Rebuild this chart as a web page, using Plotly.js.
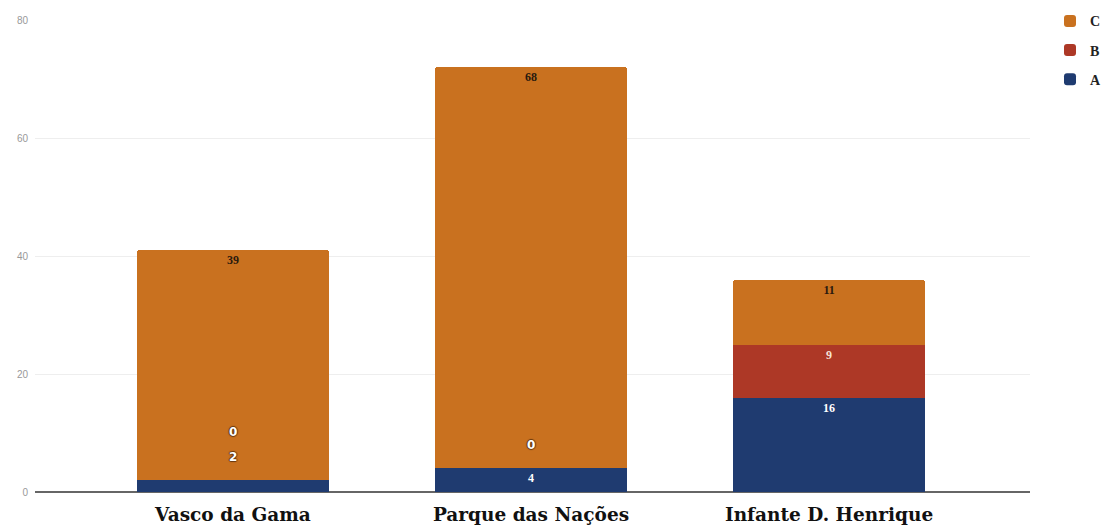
<!DOCTYPE html>
<html>
<head>
<meta charset="utf-8">
<script src="https://cdn.plot.ly/plotly-3.0.1.min.js"></script>
<style>html,body{margin:0;padding:0;background:#fff;}#chart{width:1106px;height:531px;}</style>
</head>
<body>
<div id="chart"></div>
<script>
const categories = ["Vasco da Gama", "Parque das Nações", "Infante D. Henrique"];
const seriesA = [2, 4, 16];
const seriesB = [0, 0, 9];
const seriesC = [39, 68, 11];
const yTicks = [0, 20, 40, 60, 80];

const colors = {A: "#1f3b70", B: "#ad3826", C: "#c9711f"};
const labelColors = {A: "#ffffff", B: "#f6e3d6", C: "#2a1a0e"};
const ranks = {A: 3, B: 2, C: 1};
const minInside = 3;
const labelFont = "Liberation Serif, DejaVu Serif, serif";

function mk(name, vals) {
  return {
    type: "bar", name: name, x: categories, y: vals,
    marker: {color: colors[name], cornerradius: 3},
    text: vals.map(v => v >= minInside ? String(v) : ""),
    textposition: "inside", insidetextanchor: "end",
    textfont: {family: labelFont, size: 12, color: labelColors[name], weight: "bold"},
    hoverinfo: "none", legendgroup: name, legendrank: ranks[name]
  };
}
const traces = [mk("A", seriesA), mk("B", seriesB), mk("C", seriesC)];

// labels for segments too small to hold their value
const annotations = [];
categories.forEach((c, i) => {
  let cum = 0, k = 0;
  [["A", seriesA], ["B", seriesB]].forEach(([n, arr]) => {
    cum += arr[i];
    if (arr[i] < minInside) {
      k++;
      annotations.push({
        x: c, y: cum, xref: "x", yref: "y", text: String(arr[i]), showarrow: false,
        yshift: 23 * k + (k > 1 ? 2 : 0),
        font: {family: "DejaVu Sans, sans-serif", size: 12, color: "#ffffff", weight: "bold",
               shadow: "1px 0 1px #6a3a10, -1px 0 1px #6a3a10, 0 1px 1px #6a3a10, 0 -1px 1px #6a3a10"}
      });
    }
  });
});

const layout = {
  width: 1106, height: 531,
  margin: {l: 35, r: 76, t: 20, b: 39, autoexpand: false},
  paper_bgcolor: "#ffffff", plot_bgcolor: "#ffffff",
  barmode: "stack", bargap: 0.356,
  showlegend: true,
  legend: {xref: "container", x: 1.0, xanchor: "right", yref: "container", y: 0.99, yanchor: "top",
           traceorder: "grouped", tracegroupgap: 8, itemwidth: 30,
           font: {family: labelFont, size: 14, color: "#222", weight: "bold"}},
  xaxis: {range: [-0.664, 2.674], showgrid: false, zeroline: false, showline: false,
          ticks: "", ticklabelstandoff: 9,
          tickfont: {family: "DejaVu Serif, serif", size: 18.5, color: "#111", weight: "bold"}},
  yaxis: {range: [0, 80], tickvals: yTicks, showgrid: true, gridcolor: "#eeeeee", gridwidth: 1,
          zeroline: true, zerolinecolor: "#666666", zerolinewidth: 1.5,
          ticks: "", ticklabelstandoff: 6,
          tickfont: {family: "Liberation Sans, sans-serif", size: 10, color: "#999999"}},
  annotations: annotations
};
Plotly.newPlot("chart", traces, layout, {displayModeBar: false, staticPlot: true});
</script>
</body>
</html>
